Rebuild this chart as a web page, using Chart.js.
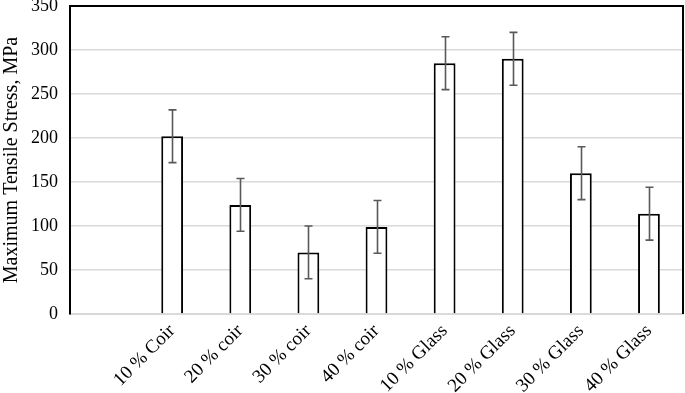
<!DOCTYPE html>
<html>
<head>
<meta charset="utf-8">
<script src="https://cdn.jsdelivr.net/npm/chart.js@4/dist/chart.umd.min.js"></script>
<style>
  html, body { margin: 0; padding: 0; background: #fff; }
  #wrap { width: 685px; height: 393px; }
</style>
</head>
<body>
<div id="wrap"><canvas id="stress-chart"></canvas></div>
<script>
// first slot is left empty, like in the original sheet
const labels = ['', '10 % Coir', '20 % coir', '30 % coir', '40 % coir', '10 % Glass', '20 % Glass', '30 % Glass', '40 % Glass'];
const stress = [null, 202, 124, 70, 99, 285, 290, 160, 114];
const errors = [null, 30, 30, 30, 30, 30, 30, 30, 30];
const yTicks = [0, 50, 100, 150, 200, 250, 300, 350];

const serif = 'Liberation Serif, Times New Roman, serif';

// error bars + top/right frame
const extras = {
    id: 'extras',
    afterDatasetsDraw(chart) {
        const ctx = chart.ctx;
        const y = chart.scales.y;
        const meta = chart.getDatasetMeta(0);
        ctx.save();
        ctx.strokeStyle = '#595959';
        ctx.lineWidth = 1.6;
        meta.data.forEach((bar, i) => {
            if (stress[i] == null) return;
            const x = Math.round(bar.x) + 0.5;
            const top = y.getPixelForValue(stress[i] + errors[i]);
            const bot = y.getPixelForValue(stress[i] - errors[i]);
            ctx.beginPath();
            ctx.moveTo(x, top); ctx.lineTo(x, bot);
            ctx.moveTo(x - 4, top); ctx.lineTo(x + 4, top);
            ctx.moveTo(x - 4, bot); ctx.lineTo(x + 4, bot);
            ctx.stroke();
        });
        const a = chart.chartArea;
        ctx.strokeStyle = '#000';
        ctx.lineWidth = 2;
        ctx.beginPath();
        ctx.moveTo(a.left, a.top);
        ctx.lineTo(a.right, a.top);
        ctx.lineTo(a.right, a.bottom);
        ctx.stroke();
        ctx.restore();
    }
};

new Chart(document.getElementById('stress-chart'), {
    type: 'bar',
    data: {
        labels: labels,
        datasets: [{
            data: stress,
            backgroundColor: '#ffffff',
            borderColor: '#000000',
            borderWidth: 2,
            barPercentage: 0.32,
            categoryPercentage: 1
        }]
    },
    options: {
        responsive: true,
        maintainAspectRatio: false,
        animation: false,
        layout: { padding: { top: 6, right: 2, left: 0, bottom: 0 } },
        plugins: { legend: { display: false }, tooltip: { enabled: false } },
        scales: {
            x: {
                grid: { display: false, drawTicks: false },
                border: { color: '#d9d9d9', width: 2 },
                afterFit: (axis) => { axis.height = 79; axis.paddingLeft = 0; axis.paddingRight = 0; },
                ticks: {
                    color: '#000',
                    font: { family: serif, size: 19 },
                    minRotation: 45,
                    maxRotation: 45,
                    padding: 6,
                    autoSkip: false
                }
            },
            y: {
                min: 0,
                max: 350,
                afterBuildTicks: (axis) => { axis.ticks = yTicks.map(v => ({ value: v })); },
                afterFit: (axis) => { axis.width = 70; axis.paddingTop = 0; axis.paddingBottom = 0; },
                grid: { color: '#d9d9d9', lineWidth: 1.5, drawTicks: false },
                border: { color: '#000', width: 2 },
                ticks: {
                    color: '#000',
                    font: { family: serif, size: 18 },
                    padding: 12
                },
                title: {
                    display: true,
                    text: 'Maximum Tensile Stress, MPa',
                    color: '#000',
                    font: { family: serif, size: 20 },
                    padding: { top: 0, bottom: 0 }
                }
            }
        }
    },
    plugins: [extras]
});
</script>
</body>
</html>
